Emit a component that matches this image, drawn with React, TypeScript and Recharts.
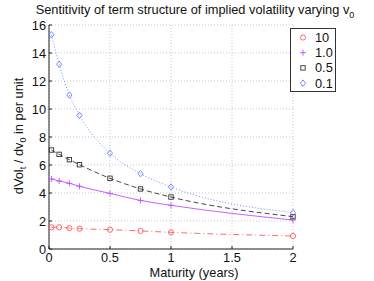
import React from "react";
import { LineChart, Line, XAxis, YAxis, CartesianGrid, Legend } from "recharts";

const maturities = [0.02, 0.083, 0.167, 0.25, 0.5, 0.75, 1.0, 2.0];
const v10 = [1.55, 1.55, 1.49, 1.45, 1.38, 1.29, 1.19, 0.93];
const v1 = [5.0, 4.86, 4.69, 4.48, 3.97, 3.47, 3.12, 2.07];
const v05 = [7.07, 6.76, 6.38, 6.02, 5.05, 4.29, 3.71, 2.31];
const v01 = [15.3, 13.2, 11.0, 9.55, 6.84, 5.38, 4.43, 2.6];
const xTicks = [0, 0.5, 1, 1.5, 2];
const yTicks = [0, 2, 4, 6, 8, 10, 12, 14, 16];
const seriesNames = ["10", "1.0", "0.5", "0.1"];

const data = maturities.map((t, i) => ({
  t,
  a: v10[i],
  b: v1[i],
  c: v05[i],
  d: v01[i],
}));

const FONT = "'Liberation Sans', Arial, sans-serif";
const FS = 12.8;

const series = [
  { key: "a", name: seriesNames[0], color: "#ff5a5a", dash: "6 3 1 3", mark: "circle" },
  { key: "b", name: seriesNames[1], color: "#c050ff", dash: undefined, mark: "plus" },
  { key: "c", name: seriesNames[2], color: "#333333", dash: "5 3", mark: "square" },
  { key: "d", name: seriesNames[3], color: "#6a80ff", dash: "1 2", mark: "diamond" },
];

function Marker({ cx, cy, mark, color }: any) {
  if (cx == null || cy == null) return null;
  if (mark === "circle")
    return <circle cx={cx} cy={cy} r={2.6} fill="none" stroke={color} strokeWidth={0.9} />;
  if (mark === "plus")
    return (
      <g stroke={color} strokeWidth={0.9}>
        <line x1={cx - 3} y1={cy} x2={cx + 3} y2={cy} />
        <line x1={cx} y1={cy - 3} x2={cx} y2={cy + 3} />
      </g>
    );
  if (mark === "square")
    return <rect x={cx - 2.2} y={cy - 2.2} width={4.4} height={4.4} fill="none" stroke={color} strokeWidth={0.9} />;
  return (
    <polygon
      points={`${cx},${cy - 3.2} ${cx + 2.6},${cy} ${cx},${cy + 3.2} ${cx - 2.6},${cy}`}
      fill="none"
      stroke={color}
      strokeWidth={0.9}
    />
  );
}

function XTick({ x, payload }: any) {
  return (
    <g>
      <line x1={x} y1={249} x2={x} y2={246} stroke="#222" />
      <text x={x} y={262} textAnchor="middle" fontSize={FS} fontFamily={FONT} fill="#111">
        {payload.value}
      </text>
    </g>
  );
}

function YTick({ y, payload }: any) {
  return (
    <g>
      <line x1={49} y1={y} x2={52} y2={y} stroke="#222" />
      <text x={46} y={y + 4.5} textAnchor="end" fontSize={FS} fontFamily={FONT} fill="#111">
        {payload.value}
      </text>
    </g>
  );
}

function LegendBox() {
  return (
    <div
      style={{
        width: 46,
        height: 64,
        border: "1px solid #333",
        background: "#fff",
        boxSizing: "border-box",
      }}
    >
      <svg width={44} height={62} style={{ display: "block" }}>
        {series.map((s, i) => (
          <g key={s.key}>
            <Marker cx={12} cy={8.5 + i * 15.2} mark={s.mark} color={s.color} />
            <text x={24} y={13 + i * 15.2} fontSize={FS} fontFamily={FONT} fill="#111">
              {s.name}
            </text>
          </g>
        ))}
      </svg>
    </div>
  );
}

function YLabel() {
  return (
    <text
      transform="translate(23,136) rotate(-90)"
      textAnchor="middle"
      fontSize={FS}
      fontFamily={FONT}
      fill="#111"
    >
      dVol
      <tspan fontSize={9} dy={3}>t</tspan>
      <tspan dy={-3}> / dv</tspan>
      <tspan fontSize={9} dy={3}>0</tspan>
      <tspan dy={-3}> in per unit</tspan>
    </text>
  );
}

function XLabel() {
  return (
    <text x={194} y={277} textAnchor="middle" fontSize={FS} fontFamily={FONT} fill="#111">
      Maturity (years)
    </text>
  );
}

export default function App() {
  return (
    <div style={{ position: "absolute", left: 0, top: 0, width: 374, height: 281, background: "#fff" }}>
      <div
        style={{
          position: "absolute",
          left: 0,
          width: 390,
          top: 2,
          textAlign: "center",
          fontFamily: FONT,
          fontSize: FS,
          lineHeight: "15px",
          color: "#111",
          whiteSpace: "nowrap",
        }}
      >
        Sentitivity of term structure of implied volatility varying v
        <sub style={{ fontSize: 9, lineHeight: 0 }}>0</sub>
      </div>
      <LineChart width={374} height={281} data={data} margin={{ top: 25, right: 35, bottom: 0, left: 0 }}>
        <CartesianGrid stroke="#c8c8c8" strokeDasharray="1 2" />
        <XAxis
          dataKey="t"
          type="number"
          domain={[0, 2]}
          ticks={xTicks}
          height={32}
          stroke="#222"
          tickLine={false}
          tick={<XTick />}
          label={{ content: () => <XLabel /> }}
        />
        <YAxis
          type="number"
          domain={[0, 16]}
          ticks={yTicks}
          width={49}
          stroke="#222"
          tickLine={false}
          tick={<YTick />}
          label={{ content: () => <YLabel /> }}
        />
        <Legend
          verticalAlign="top"
          align="right"
          layout="vertical"
          wrapperStyle={{ left: 290, top: 28, width: 46 }}
          content={() => <LegendBox />}
        />
        {series.map((s) => (
          <Line
            key={s.key}
            dataKey={s.key}
            name={s.name}
            type="monotone"
            stroke={s.color}
            strokeWidth={0.9}
            strokeDasharray={s.dash}
            isAnimationActive={false}
            dot={(p: any) => <Marker key={`${s.key}-${p.index}`} cx={p.cx} cy={p.cy} mark={s.mark} color={s.color} />}
            activeDot={false}
            legendType="none"
          />
        ))}
      </LineChart>
    </div>
  );
}
